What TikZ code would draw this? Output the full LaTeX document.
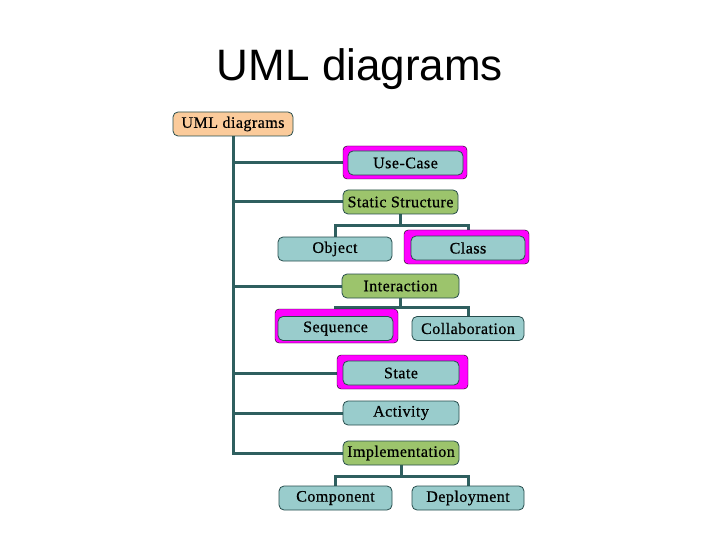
\documentclass[tikz,border=0pt]{standalone}
\usepackage{fontspec}
\setmainfont{Liberation Serif}
\newfontfamily\titlefont{Liberation Sans}
\newfontfamily\boxfont[FakeBold=0.6,LetterSpace=3]{Liberation Serif}
\usetikzlibrary{backgrounds}
\definecolor{conn}{HTML}{2F5F5F}
\definecolor{tealbox}{HTML}{99CCCC}
\definecolor{greenbox}{HTML}{9CC46C}
\definecolor{peachbox}{HTML}{FBCB9B}
\definecolor{hlcol}{HTML}{FF00FF}
\tikzset{
  box/.style={draw=conn!80!black, line width=0.8pt, rounded corners=5pt, minimum width=115pt, minimum height=24pt, inner sep=0pt, font=\boxfont\fontsize{16}{18}\selectfont},
  leaf/.style={box, fill=tealbox},
  group/.style={box, fill=greenbox},
  rootbox/.style={box, fill=peachbox, minimum width=120pt},
  link/.style={draw=conn, line width=3pt},
  hl/.style={fill=hlcol, rounded corners=4pt}
}
\begin{document}
\begin{tikzpicture}[x=1pt,y=-1pt]
\useasboundingbox (0,0) rectangle (720,540);
\node[font=\titlefont\fontsize{44}{48}\selectfont] (title) at (360,69) {UML diagrams};
\node[rootbox] (root) at (233,124) {UML diagrams};
\node[leaf] (usecase) at (405.5,163) {Use-Case};
\node[group] (static) at (400.5,202) {Static Structure};
\node[leaf, minimum width=114pt] (object) at (335,249) {Object};
\node[leaf, minimum width=114pt] (class) at (468,248) {Class};
\node[group, minimum width=117pt] (interaction) at (400.5,286) {Interaction};
\node[leaf] (sequence) at (335.5,328.5) {Sequence};
\node[leaf, minimum width=112pt] (collab) at (468,328.5) {Collaboration};
\node[leaf, minimum width=116pt] (state) at (401,373) {State};
\node[leaf, minimum width=116pt] (activity) at (401,413) {Activity};
\node[group, minimum width=116pt] (impl) at (401,453) {Implementation};
\node[leaf, minimum width=113pt] (component) at (335.5,498) {Component};
\node[leaf, minimum width=112pt] (deploy) at (468,498) {Deployment};
\begin{scope}[on background layer]
  \draw[link] (root.south) |- (usecase.west);
  \draw[link] (root.south) |- (static.west);
  \draw[link] (root.south) |- (interaction.west);
  \draw[link] (root.south) |- (state.west);
  \draw[link] (root.south) |- (activity.west);
  \draw[link] (root.south) |- (impl.west);
  \draw[link] (static.south) -- ++(0,11) coordinate (sj) -| (object.north);
  \draw[link] (sj) -| (class.north);
  \draw[link] (interaction.south) -- ++(0,9) coordinate (ij) -| (sequence.north);
  \draw[link] (ij) -| (collab.north);
  \draw[link] (impl.south) -- ++(0,11) coordinate (mj) -| (component.north);
  \draw[link] (mj) -| (deploy.north);
  \draw[hl] (343,146) rectangle (467,179);
  \draw[hl] (404,230) rectangle (529,264);
  \draw[hl] (275,309) rectangle (398,343);
  \draw[hl] (337,355) rectangle (468,389);
\end{scope}
\end{tikzpicture}
\end{document}
